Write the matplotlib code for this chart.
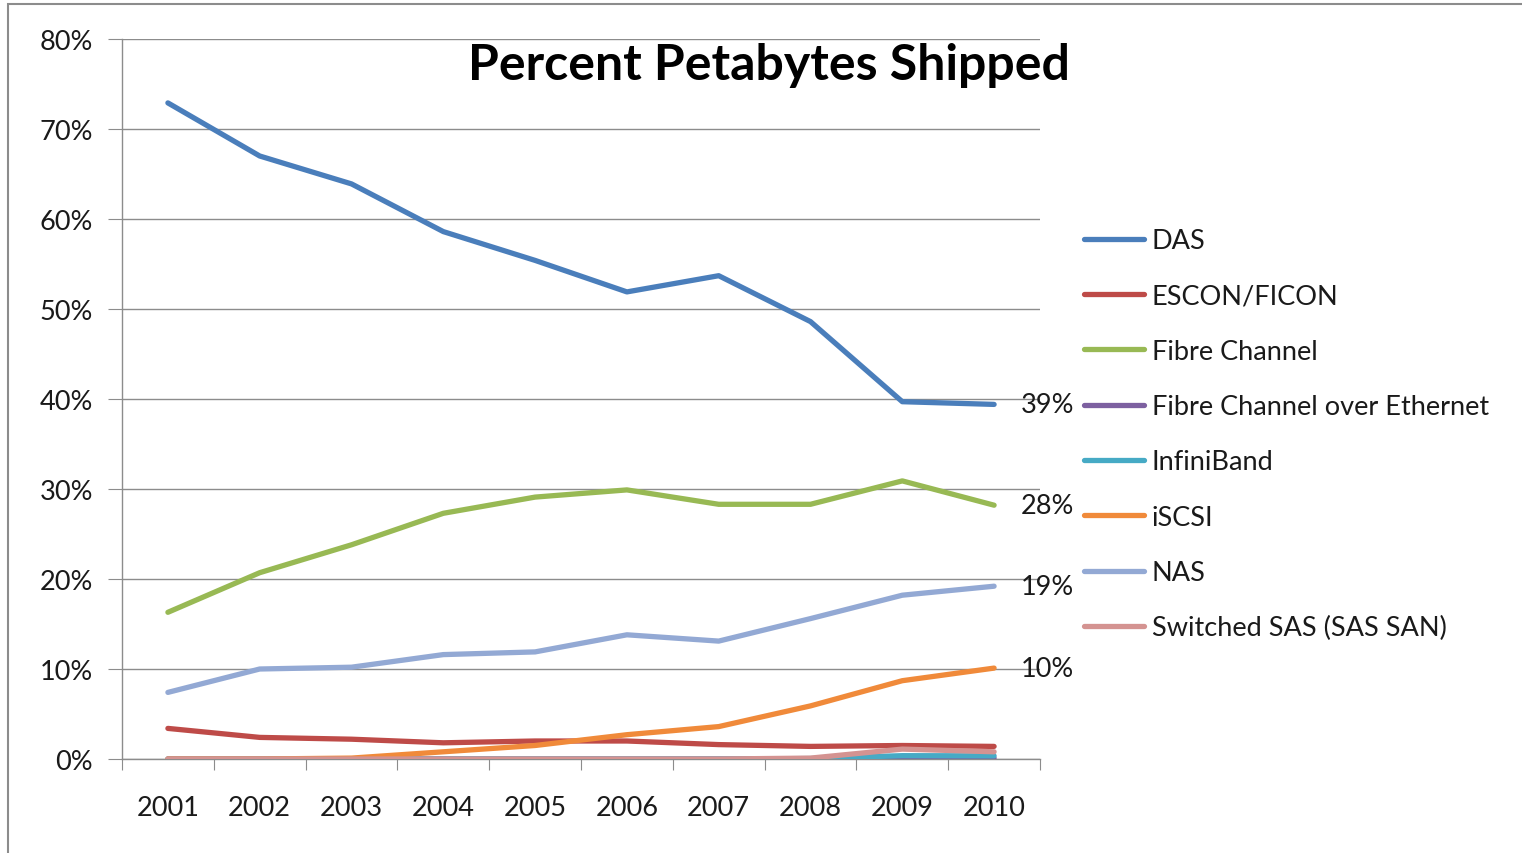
import matplotlib
matplotlib.use("Agg")
import matplotlib.pyplot as plt
from matplotlib.patches import Rectangle
from matplotlib.ticker import FixedLocator, FuncFormatter

years = ["2001", "2002", "2003", "2004", "2005", "2006", "2007", "2008", "2009", "2010"]
das = [72.9, 67.0, 63.9, 58.6, 55.4, 51.9, 53.7, 48.6, 39.7, 39.4]
escon = [3.4, 2.4, 2.2, 1.8, 2.0, 2.0, 1.6, 1.4, 1.5, 1.4]
fibre = [16.3, 20.7, 23.8, 27.3, 29.1, 29.9, 28.3, 28.3, 30.9, 28.2]
fcoe = [0, 0, 0, 0, 0, 0, 0, 0, 0.05, 0.1]
infiniband = [0, 0, 0, 0, 0, 0, 0, 0.05, 0.37, 0.35]
iscsi = [0, 0, 0.1, 0.8, 1.5, 2.7, 3.6, 5.9, 8.7, 10.1]
nas = [7.4, 10.0, 10.2, 11.6, 11.9, 13.8, 13.1, 15.6, 18.2, 19.2]
sas = [0, 0, 0, 0, 0, 0, 0, 0.1, 1.1, 0.8]

series_names = ["DAS", "ESCON/FICON", "Fibre Channel", "Fibre Channel over Ethernet",
                "InfiniBand", "iSCSI", "NAS", "Switched SAS (SAS SAN)"]
series_values = [das, escon, fibre, fcoe, infiniband, iscsi, nas, sas]
colors = ["#4A7EBB", "#BE4B48", "#98B954", "#7D60A0", "#46AAC5", "#F08A3A", "#93A9D4", "#D49391"]
end_labels = {"DAS": "39%", "Fibre Channel": "28%", "NAS": "19%", "iSCSI": "10%"}
y_ticks = [0, 10, 20, 30, 40, 50, 60, 70, 80]

plt.rcParams['font.family'] = ['Lato', 'DejaVu Sans']

W, H = 1522, 854
FS = 19.5
fig = plt.figure(figsize=(W / 100, H / 100), dpi=100)
fig.patches.append(Rectangle((8 / W, -0.1), 1.2, 1 - 5 / H + 0.1, transform=fig.transFigure,
                             fill=False, edgecolor="#8C8C8C", linewidth=1.5))

ax = fig.add_axes([122 / W, 1 - 760 / H, (1040 - 122) / W, (760 - 40) / H])
x = list(range(len(years)))
for name, vals, c in zip(series_names, series_values, colors):
    ax.plot(x, vals, color=c, linewidth=3.8, label=name, solid_capstyle='round', zorder=3)
    if name in end_labels:
        ax.annotate(end_labels[name], (x[-1], vals[-1]), xytext=(19, 0), textcoords='offset points',
                    va='center', ha='left', fontsize=FS, color='#1a1a1a', zorder=4)

ax.set_xlim(-0.5, len(years) - 0.5)
ax.set_ylim(0, 80)
ax.yaxis.set_major_locator(FixedLocator(y_ticks))
ax.yaxis.set_major_formatter(FuncFormatter(lambda v, p: f"{int(v)}%"))
ax.grid(axis='y', color='#8C8C8C', linewidth=1.0, zorder=0)
ax.set_axisbelow(True)

ax.xaxis.set_major_locator(FixedLocator([i - 0.5 for i in range(len(years) + 1)]))
ax.xaxis.set_major_formatter(FuncFormatter(lambda v, p: ""))
ax.xaxis.set_minor_locator(FixedLocator(x))
ax.set_xticklabels(years, minor=True)
ax.tick_params(axis='x', which='major', length=8, color='#8C8C8C', direction='out')
ax.tick_params(axis='x', which='minor', length=0, pad=26, labelsize=FS, labelcolor='#1a1a1a')
ax.tick_params(axis='y', length=10, color='#8C8C8C', direction='out', pad=11, labelsize=FS,
               labelcolor='#1a1a1a')

for s in ['top', 'right']:
    ax.spines[s].set_visible(False)
for s in ['left', 'bottom']:
    ax.spines[s].set_color('#8C8C8C')
    ax.spines[s].set_linewidth(1.0)

fig.text(769 / W, 1 - 65 / H, "Percent Petabytes Shipped", ha='center', va='center',
         fontsize=36, fontweight='bold', color='black')

leg = fig.legend(loc='upper left', bbox_to_anchor=(1084 / W, 1 - 229 / H), frameon=False,
                 fontsize=FS, handlelength=2.2, handletextpad=0.3, labelspacing=1.12,
                 borderaxespad=0, borderpad=0)
for t in leg.get_texts():
    t.set_color('#1a1a1a')

fig.savefig("out.png", dpi=100)
